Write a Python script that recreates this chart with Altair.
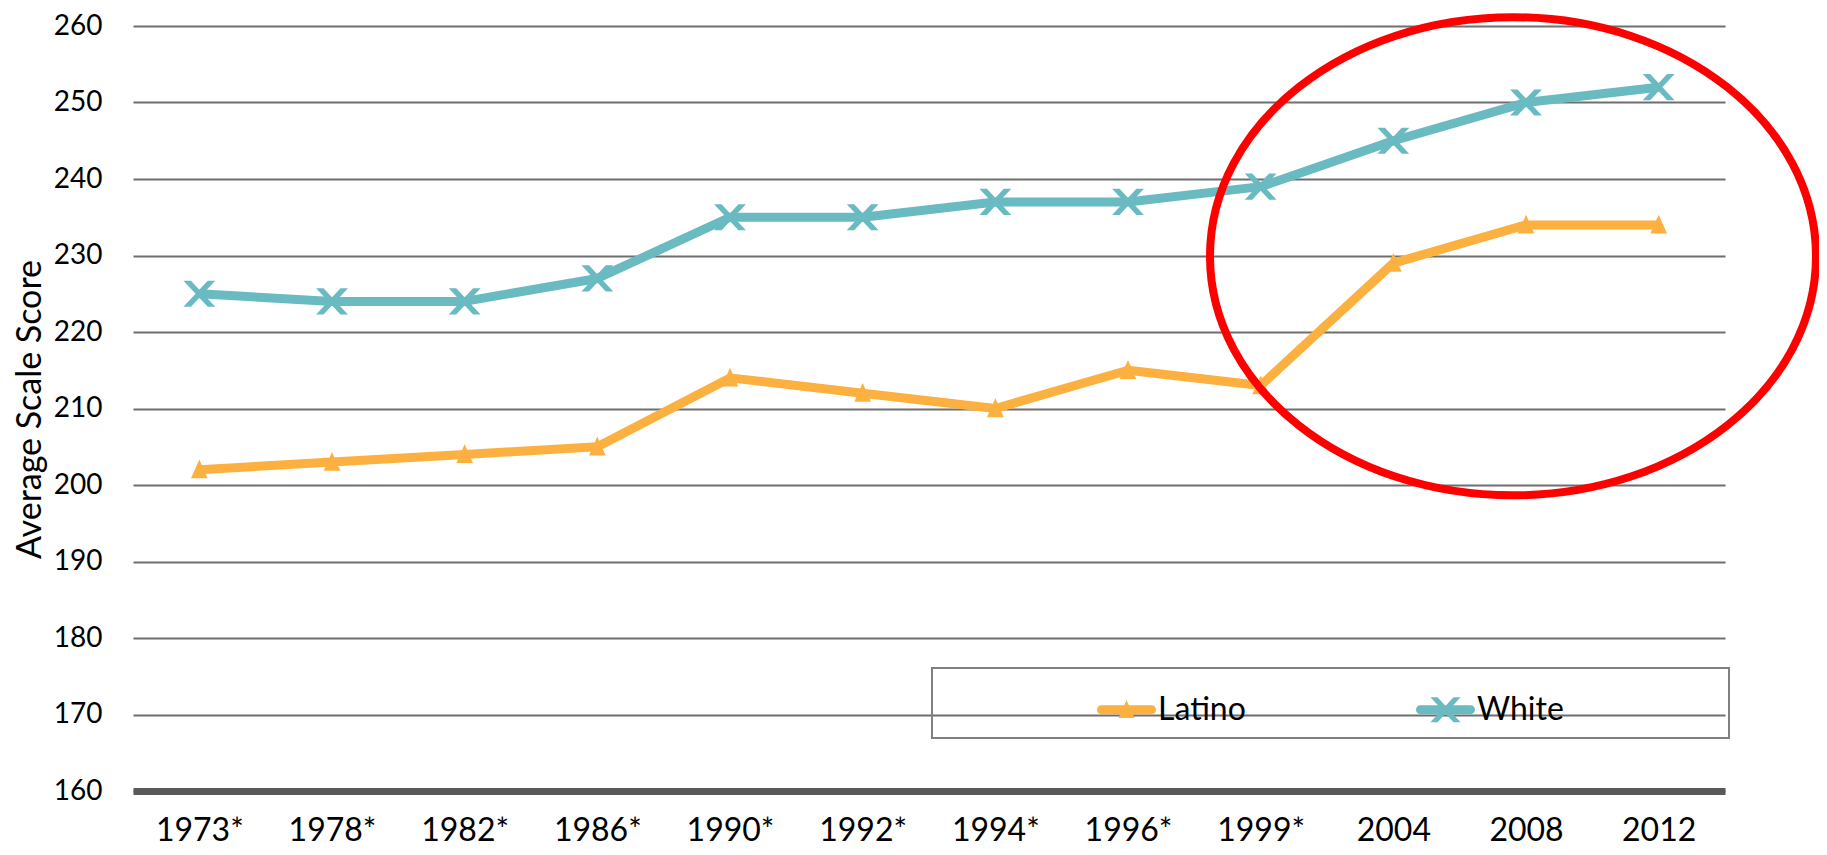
import altair as alt
import pandas as pd

# ---- data ----
years = ["1973*", "1978*", "1982*", "1986*", "1990*", "1992*", "1994*",
         "1996*", "1999*", "2004", "2008", "2012"]
latino = [202, 203, 204, 205, 214, 212, 210, 215, 213, 229, 234, 234]
white = [225, 224, 224, 227, 235, 235, 237, 237, 239, 245, 250, 252]
series = ["Latino", "White"]
colors = ["#FBB040", "#6ABAC1"]
y_ticks = [160, 170, 180, 190, 200, 210, 220, 230, 240, 250, 260]
highlight_year = ["2008"]
highlight_score = [229.9]

rows = []
for s, vals in zip(series, [latino, white]):
    for yr, v in zip(years, vals):
        rows.append({"year": yr, "score": v, "group": s})
df = pd.DataFrame(rows)
ell_df = pd.DataFrame({"year": highlight_year, "score": highlight_score})

# ---- marker / symbol shapes (unit paths) ----
TRI = "M0,-0.33L0.27,0.28L-0.27,0.28Z"
XP = ("M-0.51,-0.42L-0.27,-0.42L0.51,0.42L0.27,0.42Z "
      "M0.27,-0.42L0.51,-0.42L-0.27,0.42L-0.51,0.42Z")
LINE = ("M-0.85,-0.15H0.85A0.15,0.15 0 0 1 0.85,0.15"
        "H-0.85A0.15,0.15 0 0 1 -0.85,-0.15Z")
ELLIPSE = "M-1,0A1,0.789 0 1 1 1,0A1,0.789 0 1 1 -1,0Z"

FONT = "Lato"

x_enc = alt.X("year:N", sort=years,
              axis=alt.Axis(title=None, labelAngle=0, ticks=False, tickSize=0,
                            grid=False, domain=True, domainColor="#595959",
                            domainWidth=7, labelFont=FONT, labelFontSize=32,
                            labelColor="black", labelPadding=24))
y_enc = alt.Y("score:Q",
              scale=alt.Scale(domain=[160, 260], nice=False, zero=False),
              axis=alt.Axis(values=y_ticks, grid=True, gridColor="#6e6e6e",
                            gridWidth=1.8, domain=False, ticks=False,
                            labelFont=FONT, labelFontSize=28, labelColor="black",
                            labelPadding=31, title="Average Scale Score",
                            titleFont=FONT, titleFontSize=34,
                            titleFontWeight="normal", titleColor="black",
                            titleAngle=270, titleX=-103, titleY=383,
                            titleBaseline="middle", titleAlign="center"))

leg = alt.Legend(orient="none", legendX=799, legendY=642,
                 direction="horizontal", title="\u00a0", titleOrient="right",
                 titlePadding=153, titleFontSize=11,
                 symbolSize=3481, symbolOpacity=1, symbolStrokeWidth=0,
                 symbolOffset=153, padding=12, columnPadding=17,
                 labelOffset=2, labelFont=FONT, labelFontSize=32,
                 labelColor="black", strokeColor="#808080")

base = alt.Chart(df)

lines = base.mark_line(strokeWidth=9, strokeJoin="round").encode(
    x=x_enc, y=y_enc,
    color=alt.Color("group:N", scale=alt.Scale(domain=series, range=colors),
                    legend=leg),
    detail="group:N",
)

lat_pts = base.transform_filter(alt.datum.group == "Latino").mark_point(
    shape=TRI, filled=True, size=3800, opacity=1, color=colors[0],
    strokeWidth=0).encode(x=x_enc, y=y_enc)

white_pts = base.transform_filter(alt.datum.group == "White").mark_point(
    shape=XP, filled=True, size=3900, opacity=1, color=colors[1],
    strokeWidth=0).encode(x=x_enc, y=y_enc)

# legend carrier: draws nothing, supplies the line+marker legend symbols
carrier = base.transform_filter("false").mark_point(filled=True, opacity=1).encode(
    x=x_enc, y=y_enc,
    fill=alt.Fill("group:N", scale=alt.Scale(domain=series, range=colors),
                  legend=leg),
    shape=alt.Shape("group:N",
                    scale=alt.Scale(domain=series,
                                    range=[LINE + " " + TRI, LINE + " " + XP]),
                    legend=leg),
)

ellipse = alt.Chart(ell_df).mark_point(
    shape=ELLIPSE, filled=False, size=367236, opacity=1, color="#FF0000",
    strokeWidth=8).encode(x=x_enc, y=y_enc, xOffset=alt.value(-13))

chart = alt.layer(lines, lat_pts, white_pts, carrier, ellipse).properties(
    width=1592, height=765,
    autosize=alt.AutoSizeParams(type="none"),
    padding={"left": 125, "top": 18, "right": 94, "bottom": 56},
    background="white",
).configure_view(stroke=None).configure_legend(strokeWidth=2)

chart.save("out.html", embed_options={"renderer": "svg", "actions": False})
